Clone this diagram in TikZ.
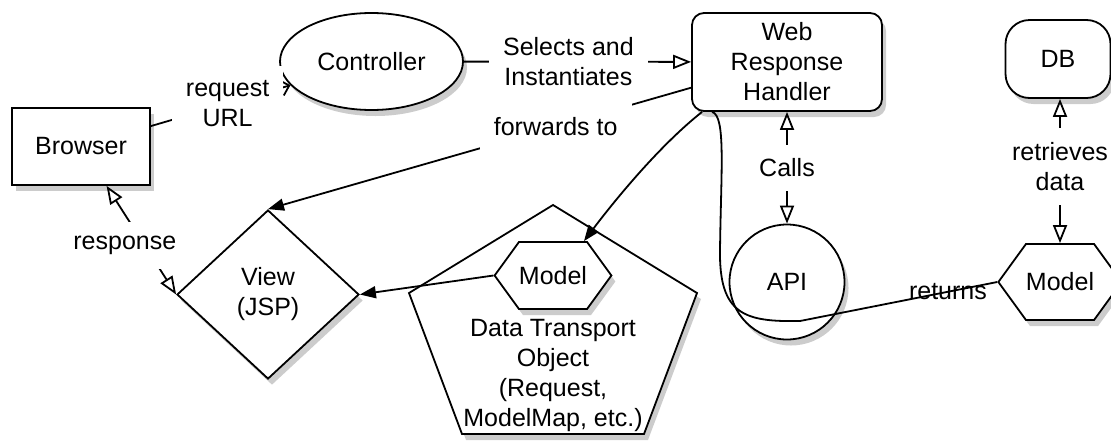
\documentclass[tikz,border=0pt]{standalone}
\usepackage{fontspec}
\setmainfont{Liberation Sans}
\usetikzlibrary{shapes.geometric,shapes.symbols,arrows.meta,shadows}

\begin{document}
\begin{tikzpicture}[x=0.5pt,y=-0.5pt,font=\fontsize{12.5}{15}\selectfont,line width=0.9pt,
  >={Triangle[length=8pt,width=6pt]}]
\tikzstyle{shadowed}=[drop shadow={shadow xshift=2pt,shadow yshift=-3pt,opacity=0.4}];
\tikzstyle{part}=[draw,fill=white,shadowed,align=center,inner sep=0pt];
\tikzstyle{hexa}=[signal,signal to=west and east,signal pointer angle=108];
\tikzstyle{lbl}=[fill=white,align=center,inner sep=7pt];
\tikzstyle{opento}=[-{Triangle[open,length=9pt,width=7pt,fill=white]}];
\tikzstyle{both}=[{Triangle[open,length=9pt,width=7pt,fill=white]}-{Triangle[open,length=9pt,width=7pt,fill=white]}];

\useasboundingbox (0,0) rectangle (1111,445);

\node [part,minimum width=69pt,minimum height=38.5pt] (browser) at (81,146.5) {Browser};
\node [part,ellipse,minimum width=91.5pt,minimum height=48.5pt] (ctrl) at (371.5,61.5) {Controller};
\node [part,rounded corners=6pt,minimum width=95pt,minimum height=49pt] (handler) at (787,62) {Web\\Response\\Handler};
\node [part,rounded corners=12pt,minimum width=52.5pt,minimum height=39pt] (db) at (1058,59) {DB};
\node [part,circle,minimum size=57.5pt] (api) at (787,282) {API};
\node [part,hexa,minimum width=56pt,minimum height=38pt] (model2) at (1060,282) {Model};
\node [part,diamond,minimum width=91pt,minimum height=84.5pt] (view) at (268,294.5) {View\\(JSP)};

\draw [fill=white,shadowed] (553,205) -- (697,293) -- (644,434) -- (462,434) -- (409,293) -- cycle;
\node [align=center] (dto) at (553,375) {Data Transport\\Object\\(Request,\\ModelMap, etc.)};
\node [part,hexa,minimum width=51pt,minimum height=33.5pt] (model1) at (553,275.5) {Model};

\draw [-{Straight Barb[length=4pt]}] (browser) -- node [lbl,pos=0.55] {request\\URL} (ctrl);
\draw [opento] (ctrl) -- node [lbl,pos=0.46] {Selects and\\Instantiates} (handler);
\draw [->] (handler.195) -- node [lbl,pos=0.32] {forwards to} (view.north);
\draw [->] ([xshift=5.5pt]handler.south west) .. controls (660,145) and (615,200) .. (model1.48);
\draw ([xshift=10.5pt]handler.south west) .. controls (726,116) and (721,170) .. (720,250)
  .. controls (719,315) and (745,322) .. (800,321) -- node [pos=0.75] {returns} (model2.west);
\draw [both] (handler) -- node [lbl] {Calls} (api);
\draw [both] (db.south -| model2) -- node [lbl,pos=0.47] {retrieves\\data} (model2);
\draw [->] (model1.west) -- (view.east);
\draw [both] (browser.-57) -- node [lbl,pos=0.55,xshift=-10pt] {response} (view.west);
\end{tikzpicture}
\end{document}
